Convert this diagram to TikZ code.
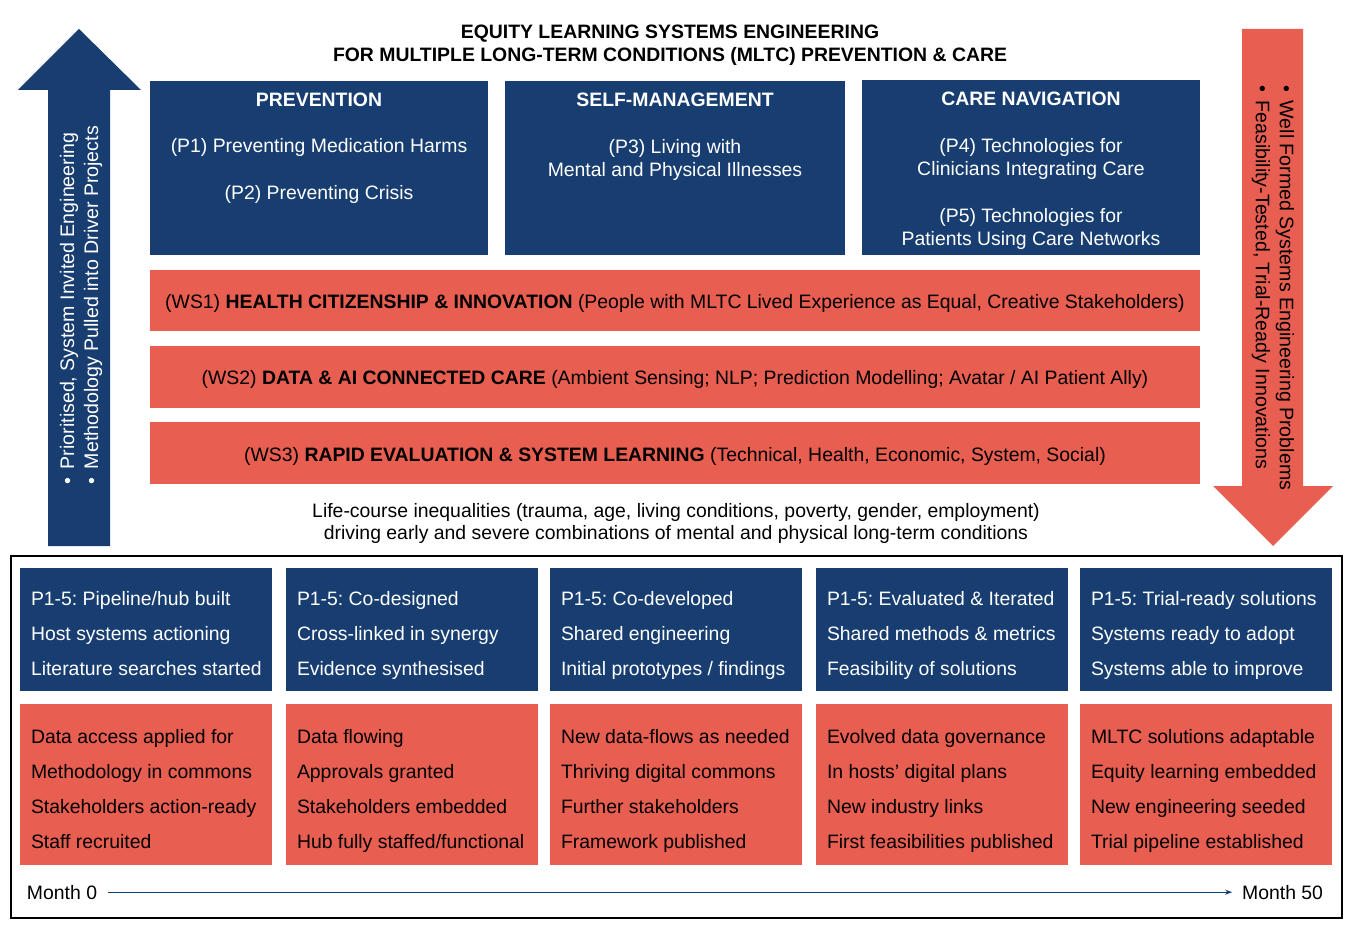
\documentclass[tikz,border=0pt]{standalone}
\usepackage{fontspec}
\setmainfont{Liberation Sans}
\usetikzlibrary{arrows.meta}
\definecolor{navy}{HTML}{173D71}
\definecolor{coral}{HTML}{E85E50}
\frenchspacing
\newcommand\milestonecol[9]{%
  \node[bluebox, minimum width=252pt, minimum height=123pt] (b#2) at (#1,568) {};
  \node[wlab] (b#2x) at (#1+11,599) {#3};
  \node[wlab] (b#2y) at (#1+11,634) {#4};
  \node[wlab] (b#2z) at (#1+11,669) {#5};
  \node[redbox, minimum width=252pt, minimum height=161pt] (r#2) at (#1,704) {};
  \node[klab] (r#2w) at (#1+11,737) {#6};
  \node[klab] (r#2x) at (#1+11,772) {#7};
  \node[klab] (r#2y) at (#1+11,807) {#8};
  \node[klab] (r#2z) at (#1+11,842) {#9};
}
\begin{document}
\frenchspacing
\begin{tikzpicture}[x=1pt,y=-1pt,
  every node/.style={inner sep=0pt, outer sep=0pt},
  bluebox/.style={fill=navy, draw=none, anchor=north west},
  redbox/.style={fill=coral, draw=none, anchor=north west},
  base/.style={font=\fontsize{19.4}{23}\selectfont},
  wtxt/.style={base, text=white, align=center, yshift=-2.5pt},
  ktxt/.style={base, text=black, align=center, yshift=-2.5pt},
  headtxt/.style={font=\fontsize{19.4}{23}\selectfont\bfseries, text=white, align=center, yshift=-0.5pt},
  wlab/.style={base, text=white, anchor=mid west, yshift=-3.5pt},
  klab/.style={base, text=black, anchor=mid west, yshift=-3.5pt}]
\useasboundingbox (0,0) rectangle (1353,933);
\fill[white] (0,0) rectangle (1353,933);

% big arrows
\fill[navy] (48,546) -- (48,90) -- (18,90) -- (79,29) -- (141,90) -- (110,90) -- (110,546) -- cycle;
\fill[coral] (1242,29) -- (1303,29) -- (1303,486) -- (1333,486) -- (1273,546) -- (1213,486) -- (1242,486) -- cycle;
\node[font=\fontsize{19.6}{24}\selectfont, text=white, align=left, rotate=90] (leftlbl) at (81,305)
  {\textbullet\hspace{8pt}Prioritised, System Invited Engineering\\\textbullet\hspace{8pt}Methodology Pulled into Driver Projects};
\node[font=\fontsize{19.6}{24}\selectfont, text=black, align=left, rotate=-90] (rightlbl) at (1273,288)
  {\textbullet\hspace{8pt}Well Formed Systems Engineering Problems\\\textbullet\hspace{8pt}Feasibility-Tested, Trial-Ready Innovations};

% title
\node[ktxt, font=\fontsize{19.4}{23}\selectfont\bfseries, yshift=-1pt] (title) at (670,41.5)
  {EQUITY LEARNING SYSTEMS ENGINEERING\\FOR MULTIPLE LONG-TERM CONDITIONS (MLTC) PREVENTION \& CARE};

% top boxes
\node[bluebox, minimum width=338pt, minimum height=174pt] (prev) at (150,81) {};
\node[bluebox, minimum width=340pt, minimum height=174pt] (selfm) at (505,81) {};
\node[bluebox, minimum width=338pt, minimum height=175pt] (care) at (862,80) {};
\node[headtxt] (prevT) at (319,99) {PREVENTION};
\node[wtxt] (p1) at (319,145) {(P1) Preventing Medication Harms};
\node[wtxt] (p2) at (319,192) {(P2) Preventing Crisis};
\node[headtxt] (selfT) at (675,99) {SELF-MANAGEMENT};
\node[wtxt] (p3) at (675,157.5) {(P3) Living with\\Mental and Physical Illnesses};
\node[headtxt] (careT) at (1031,98) {CARE NAVIGATION};
\node[wtxt] (p4) at (1031,156.5) {(P4) Technologies for\\Clinicians Integrating Care};
\node[wtxt] (p5) at (1031,226.5) {(P5) Technologies for\\Patients Using Care Networks};

% workstreams
\node[redbox, minimum width=1050pt, minimum height=61pt] (ws1) at (150,270) {};
\node[redbox, minimum width=1050pt, minimum height=62pt] (ws2) at (150,346) {};
\node[redbox, minimum width=1050pt, minimum height=62pt] (ws3) at (150,422) {};
\node[ktxt] (ws1t) at (675,301) {(WS1) \textbf{HEALTH CITIZENSHIP \& INNOVATION} (People with MLTC Lived Experience as Equal, Creative Stakeholders)};
\node[ktxt] (ws2t) at (675,377) {(WS2) \textbf{DATA \& AI CONNECTED CARE} (Ambient Sensing; NLP; Prediction Modelling; Avatar / AI Patient Ally)};
\node[ktxt] (ws3t) at (675,454) {(WS3) \textbf{RAPID EVALUATION \& SYSTEM LEARNING} (Technical, Health, Economic, System, Social)};

% life-course
\node[ktxt, font=\fontsize{19.4}{22}\selectfont] (life) at (676,521) {Life-course inequalities (trauma, age, living conditions, poverty, gender, employment)\\driving early and severe combinations of mental and physical long-term conditions};

% bottom frame
\draw[black, line width=2pt] (11,556) rectangle (1342,918);
\node[anchor=north west, minimum width=1331pt, minimum height=362pt] (frame) at (11,556) {};

\milestonecol{20}{1}{P1-5: Pipeline/hub built}{Host systems actioning}{Literature searches started}{Data access applied for}{Methodology in commons}{Stakeholders action-ready}{Staff recruited}
\milestonecol{286}{2}{P1-5: Co-designed}{Cross-linked in synergy}{Evidence synthesised}{Data flowing}{Approvals granted}{Stakeholders embedded}{Hub fully staffed/functional}
\milestonecol{550}{3}{P1-5: Co-developed}{Shared engineering}{Initial prototypes / findings}{New data-flows as needed}{Thriving digital commons}{Further stakeholders}{Framework published}
\milestonecol{816}{4}{P1-5: Evaluated \& Iterated}{Shared methods \& metrics}{Feasibility of solutions}{Evolved data governance}{In hosts' digital plans}{New industry links}{First feasibilities published}
\milestonecol{1080}{5}{P1-5: Trial-ready solutions}{Systems ready to adopt}{Systems able to improve}{MLTC solutions adaptable}{Equity learning embedded}{New engineering seeded}{Trial pipeline established}

% timeline
\node[klab] (m0) at (27,893) {Month 0};
\node[base, anchor=mid east, yshift=-3.5pt] (m50) at (1323,893) {Month 50};
\draw[navy, line width=1.2pt, -{Stealth[length=7pt,width=5pt]}] ([xshift=11pt]m0.east) -- ([xshift=-10pt]m50.west);
\end{tikzpicture}
\end{document}
